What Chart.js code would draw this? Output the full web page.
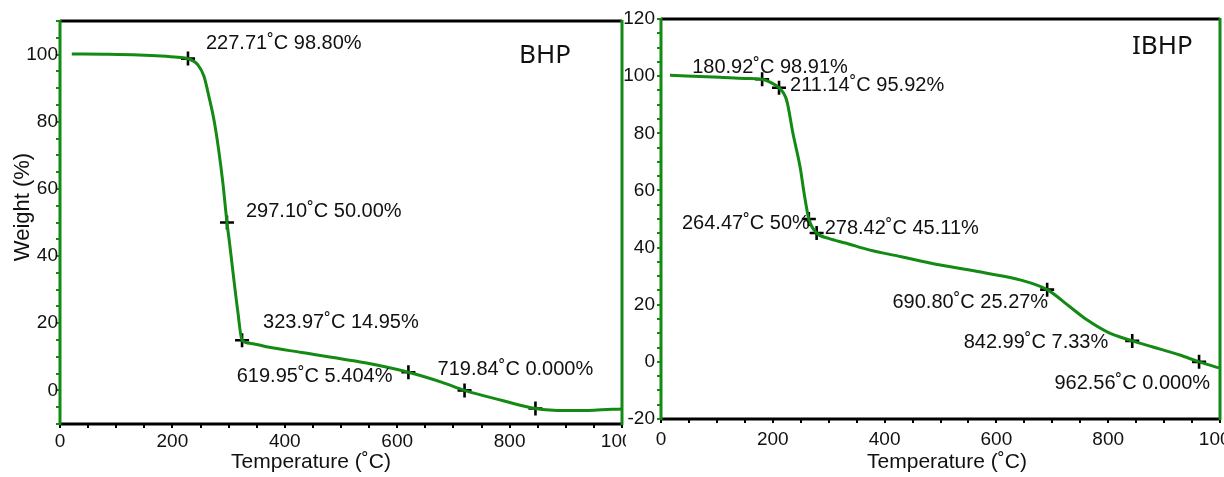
<!DOCTYPE html>
<html>
<head>
<meta charset="utf-8">
<script src="https://cdn.jsdelivr.net/npm/chart.js@4.4.1/dist/chart.umd.min.js"></script>
<style>
  html,body{margin:0;padding:0;background:#fff;}
  body{width:1224px;height:477px;position:relative;overflow:hidden;}
  .wrap{position:absolute;top:0;height:477px;}
  canvas{display:block;}
</style>
</head>
<body>
<div class="wrap" style="left:0;width:640px;"><canvas id="c1"></canvas></div>
<div class="wrap" style="left:600px;width:624px;"><canvas id="c2"></canvas></div>
<script>
// ---------- DATA ----------
// BHP curve
const bhpTemp   = [21, 80, 140, 180, 210, 227.71, 245, 256, 265, 274, 282, 290, 297.10, 302, 309, 316, 323.97, 340, 370, 430, 550, 619.95, 680, 719.84, 787, 846, 900, 950, 1000];
const bhpWeight = [100.2, 100.1, 99.9, 99.6, 99.2, 98.80, 97.0, 93.6, 87.5, 80.5, 72.0, 61.5, 50.0, 43.5, 33.5, 24.0, 14.95, 14.0, 12.9, 11.3, 8.0, 5.404, 2.4, 0.0, -3.0, -5.4, -6.0, -5.9, -5.5];
// BHP markers
const bhpMarkTemp   = [227.71, 297.10, 323.97, 619.95, 719.84, 846];
const bhpMarkWeight = [98.80, 50.00, 14.95, 5.404, 0.000, -5.4];
const bhpMarkText   = ["227.71˚C 98.80%", "297.10˚C 50.00%", "323.97˚C 14.95%", "619.95˚C 5.404%", "719.84˚C 0.000%", ""];

// IBHP curve
const ibhpTemp   = [16, 105, 150, 180.92, 196, 211.14, 225, 236, 249, 256, 264.47, 278.42, 300, 330, 374, 430, 481, 583, 642, 690.80, 732, 762, 798, 842.99, 880, 928, 962.56, 998];
const ibhpWeight = [100.3, 99.6, 99.2, 98.91, 97.8, 95.92, 91.4, 80.0, 68.0, 59.0, 50.0, 45.11, 43.2, 41.6, 39.1, 36.8, 34.6, 31.0, 28.7, 25.27, 19.2, 14.7, 10.5, 7.33, 5.2, 2.4, 0.0, -2.1];
// IBHP markers
const ibhpMarkTemp   = [180.92, 211.14, 264.47, 278.42, 690.80, 842.99, 962.56];
const ibhpMarkWeight = [98.91, 95.92, 50, 45.11, 25.27, 7.33, 0.000];
const ibhpMarkText   = ["180.92˚C 98.91%", "211.14˚C 95.92%", "264.47˚C 50%", "278.42˚C 45.11%", "690.80˚C 25.27%", "842.99˚C 7.33%", "962.56˚C 0.000%"];

// tick labels
const xTickLabels = [0, 200, 400, 600, 800, 1000];
const yTickLabels = [-20, 0, 20, 40, 60, 80, 100, 120];

// ---------- STYLE / LAYOUT ----------
const GREEN = '#138a13';
const FONT = "'Liberation Sans', Arial, sans-serif";
// label offsets relative to the marker pixel: [dx, dy, align]
const bhpLabelPos  = [[18,-15,'left'],[19,-11,'left'],[21,-18,'left'],[-16,4,'right'],[-27,-21,'left'],[0,0,'left']];
const ibhpLabelPos = [[-70,-12,'left'],[11,-2,'left'],[1,4,'right'],[8,-4,'left'],[1,13,'right'],[-24,2,'right'],[11,22,'right']];

function pts(t, w){ return t.map((v,i)=>({x:v, y:w[i]})); }

function makeChart(id, cfg){
  const canvas = document.getElementById(id);
  canvas.width = cfg.w; canvas.height = 477;
  canvas.style.width = cfg.w+'px'; canvas.style.height = '477px';

  const framePlugin = {
    id:'frame',
    beforeDraw(chart){
      const ctx = chart.ctx;
      ctx.save();
      ctx.fillStyle = '#fff';
      ctx.fillRect(cfg.bgLeft, 0, chart.width - cfg.bgLeft, chart.height);
      ctx.restore();
    },
    afterDatasetsDraw(chart){
      const ctx = chart.ctx, a = chart.chartArea;
      ctx.save();
      ctx.strokeStyle = '#000'; ctx.lineWidth = 3;
      ctx.beginPath(); ctx.moveTo(a.left, a.top); ctx.lineTo(a.right, a.top); ctx.stroke();
      ctx.beginPath(); ctx.moveTo(a.left, a.bottom); ctx.lineTo(a.right+1, a.bottom); ctx.stroke();
      ctx.strokeStyle = GREEN; ctx.lineWidth = 3;
      ctx.beginPath(); ctx.moveTo(a.left, a.top-1); ctx.lineTo(a.left, a.bottom+1); ctx.stroke();
      ctx.beginPath(); ctx.moveTo(a.right, a.top-1); ctx.lineTo(a.right, a.bottom+1); ctx.stroke();

      const xs = chart.scales.x, ys = chart.scales.y;
      ctx.fillStyle = '#111';
      ctx.font = '20px ' + FONT;
      ctx.textBaseline = 'middle';
      cfg.markT.forEach((t,i)=>{
        const txt = cfg.markText[i];
        if(!txt) return;
        const p = cfg.labelPos[i];
        ctx.textAlign = p[2];
        ctx.fillText(txt, xs.getPixelForValue(t)+p[0], ys.getPixelForValue(cfg.markW[i])+p[1]);
      });
      ctx.font = "26px 'Noto Sans', 'Open Sans', sans-serif";
      ctx.textAlign = 'left';
      ctx.fillText(cfg.title, cfg.titleX, cfg.titleY);
      ctx.font = '21px ' + FONT;
      ctx.textAlign = 'center';
      ctx.fillText('Temperature (˚C)', cfg.xTitleX, cfg.xTitleY);
      if(cfg.yTitle){
        ctx.save();
        ctx.translate(cfg.yTitleX, cfg.yTitleY);
        ctx.rotate(-Math.PI/2);
        ctx.font = '22px ' + FONT;
        ctx.fillText(cfg.yTitle, 0, 0);
        ctx.restore();
      }
      ctx.restore();
    }
  };

  return new Chart(canvas, {
    type:'line',
    data:{
      datasets:[
        {
          data: pts(cfg.curveT, cfg.curveW),
          borderColor: GREEN, borderWidth: 3,
          pointRadius: 0, fill:false,
          cubicInterpolationMode:'monotone'
        },
        {
          type:'scatter',
          data: pts(cfg.markT, cfg.markW),
          pointStyle:'cross', pointRadius:7, pointBorderWidth:2.6,
          borderColor:'#000', backgroundColor:'#000'
        }
      ]
    },
    options:{
      responsive:false, animation:false,
      layout:{ autoPadding:false, padding:{ top:cfg.padTop, right:cfg.padRight, left:0, bottom:0 } },
      plugins:{ legend:{display:false}, tooltip:{enabled:false} },
      scales:{
        x:{
          type:'linear', min:0, max:1000,
          afterBuildTicks(s){ const t=[]; for(let v=0; v<=1000; v+=50) t.push({value:v}); s.ticks=t; },
          afterFit(s){ s.height = cfg.xHeight; s.paddingRight = 0; s.paddingLeft = 0; },
          ticks:{
            autoSkip:false, maxRotation:0, padding:cfg.xPad,
            color:'#111', font:{family:FONT, size:19},
            callback:(v)=> xTickLabels.includes(v) ? String(v) : ''
          },
          grid:{ drawOnChartArea:false, drawTicks:true, tickLength:4, color:'#000', lineWidth:2 },
          border:{ display:false }
        },
        y:{
          type:'linear', min:cfg.yMin, max:cfg.yMax,
          afterBuildTicks(s){ const t=[]; for(let v=cfg.yMin; v<=cfg.yMax; v+=5) t.push({value:v}); s.ticks=t; },
          afterFit(s){ s.width = cfg.yWidth; s.paddingTop = 0; s.paddingBottom = 0; },
          ticks:{
            autoSkip:false, padding:cfg.yPad,
            color:'#111', font:{family:FONT, size:19},
            callback:(v)=> (yTickLabels.includes(v) && v>=cfg.yLabMin && v<=cfg.yLabMax) ? String(v) : ''
          },
          grid:{ drawOnChartArea:false, drawTicks:true, tickLength:4, color:GREEN, lineWidth:2 },
          border:{ display:false }
        }
      }
    },
    plugins:[framePlugin]
  });
}

makeChart('c1', {
  w:640, bgLeft:0, padTop:21, padRight:18, yWidth:60, xHeight:53, xPad:2, yPad:-2,
  yMin:-10, yMax:110, yLabMin:0, yLabMax:100,
  curveT:bhpTemp, curveW:bhpWeight, markT:bhpMarkTemp, markW:bhpMarkWeight, markText:bhpMarkText,
  labelPos:bhpLabelPos, title:'BHP', titleX:519, titleY:56,
  xTitleX:311, xTitleY:462, yTitle:'Weight (%)', yTitleX:23, yTitleY:207
});

makeChart('c2', {
  w:624, bgLeft:26, padTop:19, padRight:4, yWidth:61, xHeight:58, xPad:5, yPad:2,
  yMin:-20, yMax:120, yLabMin:-20, yLabMax:120,
  curveT:ibhpTemp, curveW:ibhpWeight, markT:ibhpMarkTemp, markW:ibhpMarkWeight, markText:ibhpMarkText,
  labelPos:ibhpLabelPos, title:'IBHP', titleX:532, titleY:47,
  xTitleX:347, xTitleY:462, yTitle:null
});
</script>
</body>
</html>
